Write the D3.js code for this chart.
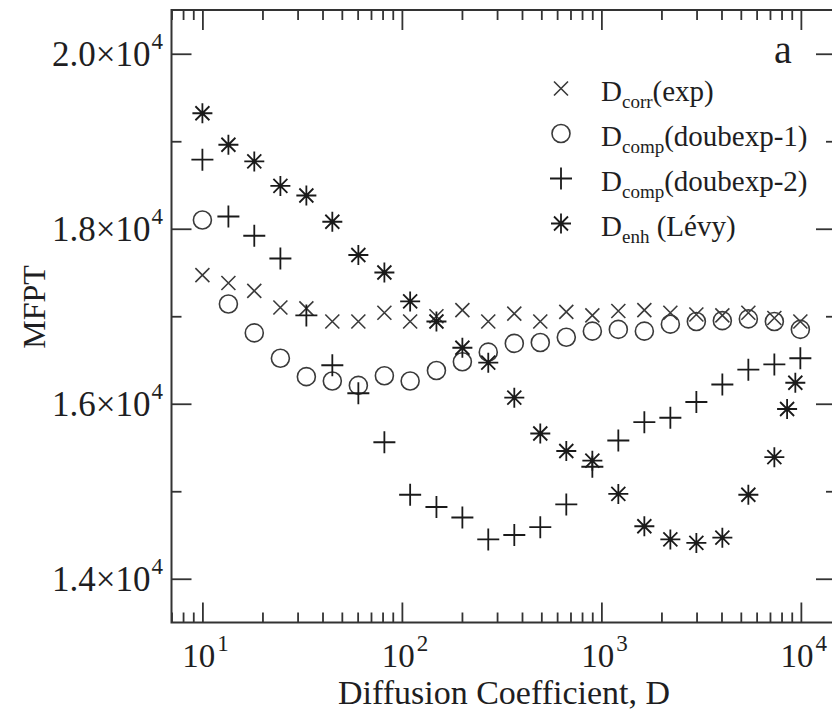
<!DOCTYPE html>
<html>
<head>
<meta charset="utf-8">
<script src="https://cdn.jsdelivr.net/npm/d3@7"></script>
<style>
  html, body { margin: 0; padding: 0; background: #fff; }
  text { font-family: "Liberation Serif", "DejaVu Serif", serif; fill: #1e1e22; }
</style>
</head>
<body>
<div id="chart"></div>
<script>
// D values (diffusion coefficient), common grid for the first three series
var dGrid = [10, 13.5, 18.2, 24.6, 33.2, 44.8, 60.5, 81.7, 110, 149, 201, 271,
             366, 494, 667, 901, 1216, 1642, 2217, 2993, 4040, 5454, 7363, 9940];
// the Levy series has two extra points near the end
var dLevy = [10, 13.5, 18.2, 24.6, 33.2, 44.8, 60.5, 81.7, 110, 149, 201, 271,
             366, 494, 667, 901, 1216, 1642, 2217, 2993, 4040, 5454, 7363, 8530, 9380];

var corrExp = [17470, 17380, 17290, 17100, 17090, 16940, 16940, 17040, 16940, 17000, 17070, 16940,
               17030, 16940, 17050, 17010, 17060, 17070, 17040, 17020, 17010, 17040, 16980, 16940];
var compDoub1 = [18100, 17140, 16810, 16520, 16310, 16260, 16210, 16320, 16260, 16380, 16480, 16590,
                 16690, 16700, 16760, 16830, 16850, 16830, 16910, 16940, 16950, 16970, 16940, 16850];
var compDoub2 = [18790, 18140, 17920, 17660, 17010, 16440, 16120, 15560, 14960, 14820, 14700, 14450,
                 14500, 14590, 14850, 15280, 15580, 15790, 15840, 16020, 16220, 16390, 16450, 16520];
var enhLevy = [19320, 18960, 18770, 18490, 18380, 18080, 17700, 17500, 17170, 16940, 16640, 16470,
               16070, 15660, 15460, 15350, 14970, 14600, 14450, 14410, 14470, 14960, 15390, 15940, 16240];

var xMajor = [10, 100, 1000, 10000];
var xMajorExp = ["1", "2", "3", "4"];
var yMajor = [14000, 16000, 18000, 20000];
var yMajorLabel = ["1.4", "1.6", "1.8", "2.0"];
var yMinor = [15000, 17000, 19000];

var legendNames = [
  {sym: "cross", sub: "corr", tail: "(exp)"},
  {sym: "circle", sub: "comp", tail: "(doubexp-1)"},
  {sym: "plus", sub: "comp", tail: "(doubexp-2)"},
  {sym: "star", sub: "enh", tail: " (Lévy)"}
];

var width = 832, height = 712;
var frameL = 171.5, frameR = 836, frameT = 10, frameB = 622.5;

var svg = d3.select("#chart").append("svg")
  .attr("width", width)
  .attr("height", height);

var x = d3.scaleLog().domain([7, 15000]).range([frameL, frameR]);
var y = d3.scaleLinear().domain([13500, 20500]).range([frameB, frameT]);

var xMinor = x.ticks().filter(function(d){ return xMajor.indexOf(d) < 0; });

// ticks, all pointing inside the frame
function tickGroup(axis, tx, ty) {
  var g = svg.append("g").attr("transform", "translate(" + tx + "," + ty + ")").call(axis);
  g.select(".domain").remove();
  g.selectAll(".tick line").attr("stroke", "#333").attr("stroke-width", 1.8);
  return g;
}
tickGroup(d3.axisBottom(x).tickValues(xMajor).tickSize(-20).tickFormat(""), 0, frameB);
tickGroup(d3.axisBottom(x).tickValues(xMinor).tickSize(-10).tickFormat(""), 0, frameB);
tickGroup(d3.axisTop(x).tickValues(xMajor).tickSize(-20).tickFormat(""), 0, frameT);
tickGroup(d3.axisTop(x).tickValues(xMinor).tickSize(-10).tickFormat(""), 0, frameT);
tickGroup(d3.axisLeft(y).tickValues(yMajor).tickSize(-20).tickFormat(""), frameL, 0);
tickGroup(d3.axisLeft(y).tickValues(yMinor).tickSize(-10).tickFormat(""), frameL, 0);
tickGroup(d3.axisRight(y).tickValues(yMajor).tickSize(-20).tickFormat(""), frameR, 0);
tickGroup(d3.axisRight(y).tickValues(yMinor).tickSize(-10).tickFormat(""), frameR, 0);

// frame
svg.append("rect")
  .attr("x", frameL).attr("y", frameT)
  .attr("width", frameR - frameL).attr("height", frameB - frameT)
  .attr("fill", "none").attr("stroke", "#333").attr("stroke-width", 2);

// x tick labels 10^n
xMajor.forEach(function(d, i){
  var t = svg.append("text")
    .attr("x", x(d) + 3)
    .attr("y", 667)
    .attr("text-anchor", "middle")
    .style("font-size", "33px");
  t.append("tspan").text("10");
  t.append("tspan").attr("dy", -16).attr("dx", 2).style("font-size", "23px").text(xMajorExp[i]);
});

// y tick labels m x 10^4
yMajor.forEach(function(d, i){
  var t = svg.append("text")
    .attr("x", 163)
    .attr("y", y(d) + 12)
    .attr("text-anchor", "end")
    .style("font-size", "35px");
  t.append("tspan").text(yMajorLabel[i] + "\u00d710");
  t.append("tspan").attr("dy", -17).attr("dx", 1).style("font-size", "23px").text("4");
});

// axis titles
svg.append("text")
  .attr("x", 504)
  .attr("y", 704)
  .attr("text-anchor", "middle")
  .style("font-size", "34px")
  .text("Diffusion Coefficient, D");

svg.append("text")
  .attr("transform", "translate(45,307) rotate(-90)")
  .attr("text-anchor", "middle")
  .style("font-size", "32px")
  .text("MFPT");

svg.append("text")
  .attr("x", 774)
  .attr("y", 63)
  .style("font-size", "40px")
  .text("a");

// marker shapes
var symbols = {
  cross: function(g){
    g.append("path").attr("d", "M-7,-7L7,7M-7,7L7,-7")
      .attr("stroke", "#3a3a3a").attr("stroke-width", 1.6).attr("fill", "none");
  },
  circle: function(g){
    g.append("circle").attr("r", 9)
      .attr("stroke", "#3a3a3a").attr("stroke-width", 1.6).attr("fill", "none");
  },
  plus: function(g){
    g.append("path").attr("d", "M-11,0L11,0M0,-11L0,11")
      .attr("stroke", "#1a1a1a").attr("stroke-width", 1.8).attr("fill", "none");
  },
  star: function(g){
    g.append("path").attr("d", "M-10,0L10,0M0,-10L0,10M-7,-7L7,7M-7,7L7,-7")
      .attr("stroke", "#1a1a1a").attr("stroke-width", 1.8).attr("fill", "none");
  }
};

function drawSeries(xs, ys, sym) {
  var pts = xs.map(function(d, i){ return {x: d, y: ys[i]}; });
  svg.append("g").selectAll("g")
    .data(pts)
    .enter().append("g")
    .attr("transform", function(d){ return "translate(" + x(d.x) + "," + y(d.y) + ")"; })
    .each(function(){ symbols[sym](d3.select(this)); });
}

drawSeries(dGrid, corrExp, "cross");
drawSeries(dGrid, compDoub1, "circle");
drawSeries(dGrid, compDoub2, "plus");
drawSeries(dLevy, enhLevy, "star");

// legend
var legend = svg.append("g");
legendNames.forEach(function(d, i){
  var ly = 88.5 + i * 45;
  var sg = legend.append("g").attr("transform", "translate(561," + ly + ")");
  symbols[d.sym](sg);
  var t = legend.append("text")
    .attr("x", 601)
    .attr("y", ly + 12)
    .style("font-size", "29px");
  t.append("tspan").text("D");
  t.append("tspan").attr("dy", 7).style("font-size", "19px").text(d.sub);
  t.append("tspan").attr("dy", -7).text(d.tail);
});
</script>
</body>
</html>
